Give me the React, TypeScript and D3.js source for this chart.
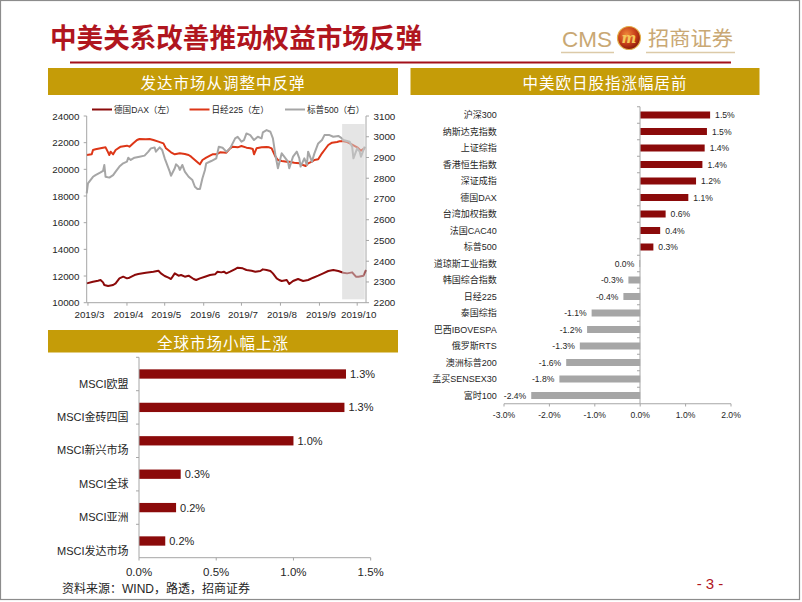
import React from "react";
import * as d3 from "d3";

// ---------------- DATA ----------------
const DAX_DATA: [string, number][] = [
  ["2019-02-28", 11450], ["2019-03-05", 11575], ["2019-03-09", 11650], ["2019-03-11", 11700],
  ["2019-03-13", 11525], ["2019-03-14", 11325], ["2019-03-17", 11250], ["2019-03-21", 11325],
  ["2019-03-23", 11450], ["2019-03-26", 11825], ["2019-03-29", 11950], ["2019-04-01", 11825],
  ["2019-04-03", 11875], ["2019-04-07", 12075], ["2019-04-10", 12150], ["2019-04-16", 12250],
  ["2019-04-22", 12325], ["2019-04-26", 12400], ["2019-04-28", 12200], ["2019-05-01", 12000],
  ["2019-05-04", 11875], ["2019-05-06", 11775], ["2019-05-09", 12200], ["2019-05-12", 12025],
  ["2019-05-14", 12075], ["2019-05-17", 11950], ["2019-05-20", 12025], ["2019-05-24", 11775],
  ["2019-05-26", 11700], ["2019-05-29", 11825], ["2019-06-02", 11950], ["2019-06-06", 12075],
  ["2019-06-10", 12125], ["2019-06-12", 12325], ["2019-06-15", 12275], ["2019-06-17", 12325],
  ["2019-06-19", 12200], ["2019-06-22", 12325], ["2019-06-26", 12525], ["2019-06-28", 12625],
  ["2019-07-02", 12575], ["2019-07-05", 12450], ["2019-07-09", 12400], ["2019-07-12", 12325],
  ["2019-07-16", 12375], ["2019-07-18", 12500], ["2019-07-21", 12450], ["2019-07-24", 12375],
  ["2019-07-26", 12200], ["2019-07-29", 11825], ["2019-07-31", 11700], ["2019-08-02", 11625],
  ["2019-08-06", 11700], ["2019-08-08", 11400], ["2019-08-11", 11625], ["2019-08-15", 11775],
  ["2019-08-19", 11625], ["2019-08-23", 11700], ["2019-08-27", 11875], ["2019-08-31", 12025],
  ["2019-09-04", 12200], ["2019-09-08", 12375], ["2019-09-12", 12450], ["2019-09-16", 12375],
  ["2019-09-20", 12250], ["2019-09-23", 12200], ["2019-09-27", 12275], ["2019-09-30", 11950],
  ["2019-10-02", 11950], ["2019-10-06", 12025], ["2019-10-08", 12450],
];

const NIKKEI_DATA: [string, number][] = [
  ["2019-02-28", 21075], ["2019-03-04", 21125], ["2019-03-05", 21450], ["2019-03-07", 21500],
  ["2019-03-13", 21625], ["2019-03-15", 21650], ["2019-03-17", 21275], ["2019-03-18", 21075],
  ["2019-03-19", 21325], ["2019-03-21", 21125], ["2019-03-23", 21450], ["2019-03-27", 21700],
  ["2019-04-01", 21775], ["2019-04-03", 21700], ["2019-04-06", 21950], ["2019-04-09", 22200],
  ["2019-04-11", 22275], ["2019-04-16", 22250], ["2019-04-19", 22275], ["2019-04-22", 22200],
  ["2019-04-26", 22075], ["2019-04-30", 21950], ["2019-05-02", 21575], ["2019-05-06", 21275],
  ["2019-05-09", 21125], ["2019-05-13", 21200], ["2019-05-17", 21150], ["2019-05-20", 21075],
  ["2019-05-22", 20950], ["2019-05-25", 20700], ["2019-05-28", 20450], ["2019-05-29", 20375],
  ["2019-05-31", 20700], ["2019-06-03", 20875], ["2019-06-06", 21025], ["2019-06-08", 21125],
  ["2019-06-11", 21125], ["2019-06-14", 21275], ["2019-06-19", 21250], ["2019-06-22", 21575],
  ["2019-06-24", 21700], ["2019-06-28", 21650], ["2019-07-01", 21750], ["2019-07-05", 21625],
  ["2019-07-08", 21575], ["2019-07-10", 21525], ["2019-07-11", 21125], ["2019-07-13", 21575],
  ["2019-07-17", 21650], ["2019-07-21", 21675], ["2019-07-23", 21650], ["2019-07-25", 21575],
  ["2019-07-28", 20950], ["2019-07-30", 20700], ["2019-08-02", 20625], ["2019-08-06", 20575],
  ["2019-08-08", 20575], ["2019-08-12", 20500], ["2019-08-16", 20450], ["2019-08-19", 20325],
  ["2019-08-21", 20250], ["2019-08-23", 20450], ["2019-08-26", 20575], ["2019-08-28", 20700],
  ["2019-08-31", 20750], ["2019-09-03", 21200], ["2019-09-05", 21450], ["2019-09-08", 21825],
  ["2019-09-11", 22000], ["2019-09-15", 22050], ["2019-09-17", 22100], ["2019-09-20", 22100],
  ["2019-09-23", 22050], ["2019-09-27", 21850], ["2019-10-01", 21650], ["2019-10-04", 21400],
  ["2019-10-07", 21600],
];

const SPX_DATA: [string, number][] = [
  ["2019-02-28", 2727], ["2019-03-01", 2775], ["2019-03-05", 2807], ["2019-03-07", 2815],
  ["2019-03-11", 2828], ["2019-03-13", 2835], ["2019-03-14", 2864], ["2019-03-15", 2807],
  ["2019-03-18", 2803], ["2019-03-21", 2815], ["2019-03-23", 2832], ["2019-03-26", 2856],
  ["2019-03-29", 2872], ["2019-04-01", 2880], ["2019-04-02", 2899], ["2019-04-04", 2888],
  ["2019-04-07", 2899], ["2019-04-11", 2904], ["2019-04-15", 2909], ["2019-04-18", 2928],
  ["2019-04-20", 2944], ["2019-04-23", 2948], ["2019-04-24", 2928], ["2019-04-27", 2949],
  ["2019-04-29", 2936], ["2019-05-01", 2896], ["2019-05-02", 2880], ["2019-05-05", 2832],
  ["2019-05-06", 2812], ["2019-05-09", 2848], ["2019-05-10", 2867], ["2019-05-12", 2856],
  ["2019-05-13", 2840], ["2019-05-15", 2864], ["2019-05-17", 2832], ["2019-05-20", 2807],
  ["2019-05-23", 2791], ["2019-05-25", 2759], ["2019-05-27", 2748], ["2019-05-29", 2748],
  ["2019-05-31", 2800], ["2019-06-02", 2840], ["2019-06-03", 2872], ["2019-06-07", 2883],
  ["2019-06-11", 2896], ["2019-06-13", 2952], ["2019-06-16", 2947], ["2019-06-19", 2928],
  ["2019-06-22", 2944], ["2019-06-26", 2992], ["2019-06-28", 3000], ["2019-07-01", 2976],
  ["2019-07-03", 2984], ["2019-07-05", 3016], ["2019-07-08", 3008], ["2019-07-11", 2984],
  ["2019-07-14", 3000], ["2019-07-17", 2992], ["2019-07-18", 3021], ["2019-07-21", 3032],
  ["2019-07-24", 3024], ["2019-07-26", 2992], ["2019-07-28", 2912], ["2019-07-30", 2848],
  ["2019-07-31", 2872], ["2019-08-02", 2920], ["2019-08-04", 2904], ["2019-08-07", 2880],
  ["2019-08-08", 2848], ["2019-08-11", 2904], ["2019-08-14", 2928], ["2019-08-16", 2896],
  ["2019-08-17", 2856], ["2019-08-20", 2896], ["2019-08-22", 2864], ["2019-08-23", 2928],
  ["2019-08-26", 2880], ["2019-08-28", 2920], ["2019-08-31", 2968], ["2019-09-03", 2984],
  ["2019-09-05", 3008], ["2019-09-09", 3008], ["2019-09-12", 3000], ["2019-09-16", 3004],
  ["2019-09-18", 2996], ["2019-09-20", 2984], ["2019-09-25", 2976], ["2019-09-27", 2952],
  ["2019-09-28", 2896], ["2019-10-01", 2944], ["2019-10-03", 2928], ["2019-10-04", 2904],
  ["2019-10-07", 2952],
];

const LEFT_TICKS = [10000, 12000, 14000, 16000, 18000, 20000, 22000, 24000];
const RIGHT_TICKS = [2200, 2300, 2400, 2500, 2600, 2700, 2800, 2900, 3000, 3100];
const MONTH_TICKS = ["2019-03-01", "2019-04-01", "2019-05-01", "2019-06-01", "2019-07-01", "2019-08-01", "2019-09-01", "2019-10-01"];
const MONTH_LABELS = ["2019/3", "2019/4", "2019/5", "2019/6", "2019/7", "2019/8", "2019/9", "2019/10"];
const SHADE_RANGE = ["2019-09-19", "2019-10-07"];
const LEGEND_NAMES = ["德国DAX（左）", "日经225（左）", "标普500（右）"];

const INDEX_NAMES = [
  "沪深300", "纳斯达克指数", "上证综指", "香港恒生指数", "深证成指", "德国DAX", "台湾加权指数",
  "法国CAC40", "标普500", "道琼斯工业指数", "韩国综合指数", "日经225", "泰国综指",
  "巴西IBOVESPA", "俄罗斯RTS", "澳洲标普200", "孟买SENSEX30", "富时100",
];
const INDEX_CHANGES = [1.54, 1.47, 1.42, 1.37, 1.23, 1.06, 0.56, 0.44, 0.29, -0.02, -0.26, -0.37, -1.07, -1.17, -1.33, -1.63, -1.78, -2.4];
const INDEX_TICKS = [-3, -2, -1, 0, 1, 2];

const MSCI_NAMES = ["MSCI欧盟", "MSCI金砖四国", "MSCI新兴市场", "MSCI全球", "MSCI亚洲", "MSCI发达市场"];
const MSCI_CHANGES = [1.34, 1.33, 1.0, 0.27, 0.24, 0.17];
const MSCI_TICKS = [0, 0.5, 1.0, 1.5];

// ---------------- STYLE ----------------
const LATIN = '"Liberation Sans", Arial, "Noto Sans CJK SC", sans-serif';
const CJK = '"Noto Sans CJK SC", "Liberation Sans", sans-serif';
const GOLD = "#c59c08";
const DARKRED = "#8b0a0a";
const NIKKEI_RED = "#dd3617";
const GRAY = "#a6a6a6";
const AXIS = "#a6a6a6";
const TEXT = "#262626";

const parse = d3.timeParse("%Y-%m-%d");
const fmtPct = (v: number) => (Math.abs(v) < 0.05 ? "0.0" : v.toFixed(1)) + "%";

export default function App() {
  // ---- line chart scales ----
  const xT = d3.scaleTime().domain([parse("2019-02-28")!, parse("2019-10-08")!]).range([86.7, 366]);
  const yL = d3.scaleLinear().domain([10000, 24000]).range([302.7, 116]);
  const yR = d3.scaleLinear().domain([2200, 3100]).range([302.7, 116]);
  const lineL = d3.line<[string, number]>().x((d) => xT(parse(d[0])!)).y((d) => yL(d[1]));
  const lineR = d3.line<[string, number]>().x((d) => xT(parse(d[0])!)).y((d) => yR(d[1]));

  // ---- index bar chart ----
  const x1 = d3.scaleLinear().domain([-3, 2]).range([504, 731]);
  const y1 = d3.scaleBand<string>().domain(INDEX_NAMES).range([106.75, 403.75]);
  const bh1 = 7;

  // ---- MSCI bar chart ----
  const x2 = d3.scaleLinear().domain([0, 1.5]).range([139, 370.7]);
  const y2 = d3.scaleBand<string>().domain(MSCI_NAMES).range([357.3, 557.7]);
  const bh2 = 9.3;

  const legendColors = [DARKRED, NIKKEI_RED, GRAY];
  const legendX = [92, 189.5, 285];

  return (
    <svg width={802} height={602} style={{ position: "absolute", left: 0, top: 0, display: "block", background: "#fff" }}>
      <defs>
        <radialGradient id="logoGrad" cx="40%" cy="35%" r="65%">
          <stop offset="0%" stopColor="#f08a3a" />
          <stop offset="60%" stopColor="#c8401a" />
          <stop offset="100%" stopColor="#8a1a0c" />
        </radialGradient>
      </defs>
      <rect x={0} y={0} width={802} height={602} fill="#fff" />
      <rect x={0.5} y={0.5} width={799} height={599} fill="none" stroke="#8c8c8c" strokeWidth={1.2} />

      {/* Title */}
      <text x={50} y={48} fontFamily={CJK} fontWeight={700} fontSize={27} fill="#b0151e" textLength={372} lengthAdjust="spacingAndGlyphs">
        中美关系改善推动权益市场反弹
      </text>

      {/* Logo */}
      <text x={562} y={47} fontFamily={LATIN} fontSize={22.5} fill="#c9a874">CMS</text>
      <line x1={561} x2={614} y1={52.5} y2={52.5} stroke="#dccaa8" strokeWidth={1.5} />
      <circle cx={629} cy={38} r={11.5} fill="url(#logoGrad)" stroke="#e3b04a" strokeWidth={1.2} />
      <text x={629} y={43} textAnchor="middle" fontFamily="DejaVu Serif, serif" fontStyle="italic" fontWeight={700} fontSize={14} fill="#f5c85a">m</text>
      <text x={648} y={46} fontFamily={CJK} fontSize={20.5} fill="#c9a874" textLength={85} lengthAdjust="spacingAndGlyphs">招商证券</text>
      <line x1={646} x2={735} y1={52.5} y2={52.5} stroke="#dccaa8" strokeWidth={1.5} />

      {/* Red rule */}
      <line x1={70} x2={731} y1={62.5} y2={62.5} stroke="#a3101a" strokeWidth={2} />

      {/* Panel headers */}
      <rect x={48} y={68} width={350} height={27} fill={GOLD} />
      <text x={223} y={82} textAnchor="middle" dominantBaseline="central" fontFamily={CJK} fontSize={15.5} fill="#fff" letterSpacing={1}>发达市场从调整中反弹</text>
      <rect x={410.5} y={68} width={349} height={27} fill={GOLD} />
      <text x={605} y={82} textAnchor="middle" dominantBaseline="central" fontFamily={CJK} fontSize={15.5} fill="#fff" letterSpacing={1}>中美欧日股指涨幅居前</text>
      <rect x={48} y={330} width={350} height={22.5} fill={GOLD} />
      <text x={223} y={341.5} textAnchor="middle" dominantBaseline="central" fontFamily={CJK} fontSize={15.5} fill="#fff" letterSpacing={1}>全球市场小幅上涨</text>

      {/* ---------- Line chart ---------- */}
      <g>
        {/* lines */}
        <path d={lineL(DAX_DATA) || ""} fill="none" stroke={DARKRED} strokeWidth={2} strokeLinejoin="round" />
        <path d={lineL(NIKKEI_DATA) || ""} fill="none" stroke={NIKKEI_RED} strokeWidth={2} strokeLinejoin="round" />
        <path d={lineR(SPX_DATA) || ""} fill="none" stroke={GRAY} strokeWidth={2} strokeLinejoin="round" />
        {/* shaded */}
        <rect
          x={xT(parse(SHADE_RANGE[0])!)}
          y={124}
          width={xT(parse(SHADE_RANGE[1])!) - xT(parse(SHADE_RANGE[0])!)}
          height={175.3}
          fill="#cfcfcf"
          opacity={0.55}
        />
        {/* axes */}
        <line x1={86.7} x2={86.7} y1={116} y2={302.7} stroke={AXIS} strokeWidth={1} />
        <line x1={366} x2={366} y1={116} y2={302.7} stroke={AXIS} strokeWidth={1} />
        <line x1={86.7} x2={366} y1={302.7} y2={302.7} stroke={AXIS} strokeWidth={1} />
        {LEFT_TICKS.map((t) => (
          <g key={"l" + t}>
            <line x1={83.7} x2={86.7} y1={yL(t)} y2={yL(t)} stroke={AXIS} />
            <text x={79.5} y={yL(t)} textAnchor="end" dominantBaseline="central" fontFamily={LATIN} fontSize={9.8} fill={TEXT}>{t}</text>
          </g>
        ))}
        {RIGHT_TICKS.map((t) => (
          <g key={"r" + t}>
            <line x1={366} x2={369} y1={yR(t)} y2={yR(t)} stroke={AXIS} />
            <text x={373.5} y={yR(t)} dominantBaseline="central" fontFamily={LATIN} fontSize={9.8} fill={TEXT}>{t}</text>
          </g>
        ))}
        {MONTH_TICKS.map((m, i) => (
          <g key={m}>
            <line x1={xT(parse(m)!)} x2={xT(parse(m)!)} y1={302.7} y2={305.7} stroke={AXIS} />
            <text x={xT(parse(m)!) + 1.5} y={314.5} textAnchor="middle" dominantBaseline="central" fontFamily={LATIN} fontSize={9.8} fill={TEXT}>{MONTH_LABELS[i]}</text>
          </g>
        ))}
        {/* legend */}
        {LEGEND_NAMES.map((n, i) => (
          <g key={n}>
            <line x1={legendX[i]} x2={legendX[i] + 20} y1={109.5} y2={109.5} stroke={legendColors[i]} strokeWidth={2} />
            <text x={legendX[i] + 22} y={109.5} dominantBaseline="central" fontFamily={LATIN} fontSize={8.6} fill={TEXT}>{n}</text>
          </g>
        ))}
      </g>

      {/* ---------- Index bar chart ---------- */}
      <g>
        {INDEX_NAMES.map((n, i) => {
          const v = INDEX_CHANGES[i];
          const cy = (y1(n) || 0) + y1.bandwidth() / 2;
          const x0 = x1(Math.min(0, v));
          const w = Math.abs(x1(v) - x1(0));
          return (
            <g key={n}>
              <rect x={x0} y={cy - bh1 / 2} width={Math.max(w, 0.8)} height={bh1} fill={v >= 0 ? DARKRED : GRAY} />
              <text x={496.7} y={cy} textAnchor="end" dominantBaseline="central" fontFamily={LATIN} fontSize={9} fill={TEXT}>{n}</text>
              <text
                x={v >= 0 ? x1(v) + 5 : x1(v) - 5}
                y={cy}
                textAnchor={v >= 0 ? "start" : "end"}
                dominantBaseline="central"
                fontFamily={LATIN}
                fontSize={8.6}
                fill={TEXT}
              >
                {fmtPct(v)}
              </text>
            </g>
          );
        })}
        <line x1={640} x2={640} y1={106.75} y2={403.75} stroke={AXIS} />
        {INDEX_NAMES.map((n) => (
          <line key={"t" + n} x1={637} x2={640} y1={y1(n) || 0} y2={y1(n) || 0} stroke={AXIS} />
        ))}
        <line x1={504} x2={731} y1={403.75} y2={403.75} stroke={AXIS} />
        {INDEX_TICKS.map((t) => (
          <g key={"x1" + t}>
            <line x1={x1(t)} x2={x1(t)} y1={403.75} y2={406.5} stroke={AXIS} />
            <text x={x1(t)} y={414.5} textAnchor="middle" dominantBaseline="central" fontFamily={LATIN} fontSize={8.6} fill={TEXT}>{t.toFixed(1) + "%"}</text>
          </g>
        ))}
      </g>

      {/* ---------- MSCI bar chart ---------- */}
      <g>
        {MSCI_NAMES.map((n, i) => {
          const v = MSCI_CHANGES[i];
          const cy = (y2(n) || 0) + y2.bandwidth() / 2;
          return (
            <g key={n}>
              <rect x={x2(0)} y={cy - bh2 / 2} width={x2(v) - x2(0)} height={bh2} fill={DARKRED} />
              <text x={128.5} y={cy + 9.5} textAnchor="end" dominantBaseline="central" fontFamily={LATIN} fontSize={11} fill={TEXT}>{n}</text>
              <text x={x2(v) + 4} y={cy} dominantBaseline="central" fontFamily={LATIN} fontSize={11} fill={TEXT}>{fmtPct(v)}</text>
            </g>
          );
        })}
        <line x1={139} x2={139} y1={357.3} y2={557.7} stroke={AXIS} />
        {MSCI_NAMES.map((n) => (
          <line key={"t2" + n} x1={136} x2={139} y1={y2(n) || 0} y2={y2(n) || 0} stroke={AXIS} />
        ))}
        <line x1={139} x2={370.7} y1={557.7} y2={557.7} stroke={AXIS} />
        {MSCI_TICKS.map((t) => (
          <g key={"x2" + t}>
            <line x1={x2(t)} x2={x2(t)} y1={557.7} y2={560.5} stroke={AXIS} />
            <text x={x2(t)} y={572} textAnchor="middle" dominantBaseline="central" fontFamily={LATIN} fontSize={11.5} fill={TEXT}>{t.toFixed(1) + "%"}</text>
          </g>
        ))}
      </g>

      {/* Source & page number */}
      <text x={62} y={588.5} dominantBaseline="central" fontFamily={LATIN} fontSize={12} fill={TEXT}>资料来源：WIND，路透，招商证券</text>
      <text x={710} y={583.5} textAnchor="middle" dominantBaseline="central" fontFamily={LATIN} fontSize={15} fill="#b0151e">- 3 -</text>
    </svg>
  );
}
